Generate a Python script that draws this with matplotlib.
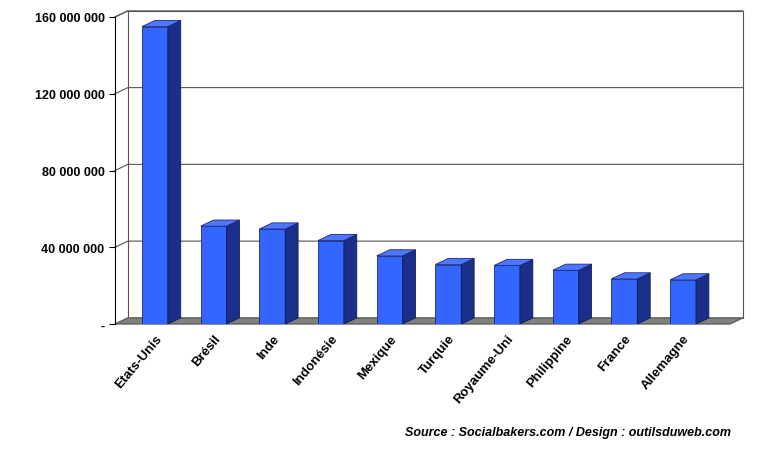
import matplotlib
matplotlib.use('Agg')
from matplotlib import pyplot as plt
from matplotlib.patches import Polygon

plt.rcParams['font.family'] = ['Liberation Sans', 'DejaVu Sans']

countries = ['Etats-Unis', 'Brésil', 'Inde', 'Indonésie', 'Mexique', 'Turquie',
             'Royaume-Uni', 'Philippine', 'France', 'Allemagne']
users = [155e6, 51e6, 49.5e6, 43.5e6, 35.5e6, 31e6, 30.5e6, 28e6, 23.5e6, 23e6]
yticks = [0, 40e6, 80e6, 120e6, 160e6]
ylabels = ['-', '40 000 000', '80 000 000', '120 000 000', '160 000 000']

fig = plt.figure(figsize=(7.58, 4.52), dpi=100)
ax = fig.add_axes([115 / 758, 1 - 325 / 452, 615 / 758, 307 / 452])
ax.set_xlim(-0.68, 9.8)
ax.set_ylim(0, 160e6)
ax.set_clip_on(False)

dx, dy = 0.22, 3.2e6
x0, x1 = -0.68, 9.8

# back wall + gridlines
wall = Polygon([(x0 + dx, dy), (x1 + dx, dy), (x1 + dx, 160e6 + dy), (x0 + dx, 160e6 + dy)],
               closed=True, facecolor='white', edgecolor='#555555', lw=0.8, clip_on=False, zorder=0)
ax.add_patch(wall)
for t in yticks[1:]:
    ax.plot([x0, x0 + dx, x1 + dx], [t, t + dy, t + dy], color='#555555', lw=0.8, clip_on=False, zorder=1)
ax.plot([x0, x0 + dx], [160e6 + dy - dy, 160e6 + dy], color='#555555', lw=0.8, clip_on=False)

# floor
floor = Polygon([(x0, 0), (x1, 0), (x1 + dx, dy), (x0 + dx, dy)], closed=True,
                facecolor='#808080', edgecolor='#606060', clip_on=False, zorder=1)
ax.add_patch(floor)

w = 0.44
bars = ax.bar(range(len(users)), users, width=w, color='#3366FF', edgecolor='#1a2a80', lw=0.6, zorder=3)
for b, v in zip(bars, users):
    xl, xr = b.get_x(), b.get_x() + w
    ax.add_patch(Polygon([(xr, 0), (xr + dx, dy), (xr + dx, v + dy), (xr, v)], closed=True,
                         facecolor='#1a2f8a', edgecolor='#101c55', lw=0.6, zorder=3))
    ax.add_patch(Polygon([(xl, v), (xr, v), (xr + dx, v + dy), (xl + dx, v + dy)], closed=True,
                         facecolor='#4d77ff', edgecolor='#1a2a80', lw=0.6, zorder=3))

for s in ['top', 'right', 'bottom']:
    ax.spines[s].set_visible(False)
ax.spines['left'].set_color('black')
ax.set_yticks(yticks)
ax.set_yticklabels(ylabels, fontsize=9, fontweight='bold')
ax.tick_params(axis='y', length=4)
ax.set_xticks(range(len(countries)))
ax.set_xticklabels(countries, rotation=50, ha='right', rotation_mode='anchor',
                   fontsize=9.5, fontweight='bold')
ax.tick_params(axis='x', length=0, pad=6)

fig.text(0.965, 0.035, 'Source : Socialbakers.com / Design : outilsduweb.com', ha='right',
         fontsize=9, fontweight='bold', style='italic')

plt.savefig('out.png', dpi=100)
